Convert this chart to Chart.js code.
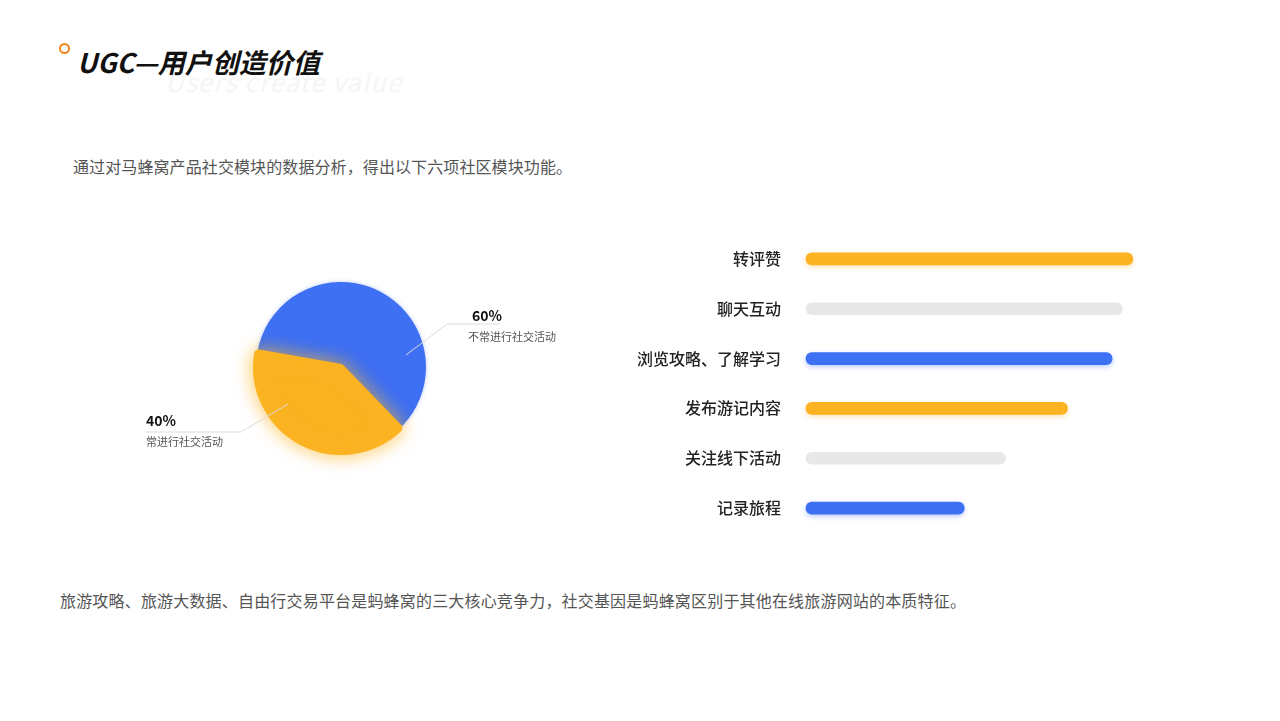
<!DOCTYPE html>
<html>
<head>
<meta charset="utf-8">
<script src="https://cdn.jsdelivr.net/npm/chart.js@4"></script>
<style>
  html, body { margin: 0; padding: 0; background: #fff; }
  body { width: 1280px; height: 721px; position: relative; overflow: hidden;
         font-family: "Noto Sans CJK SC", "Noto Sans", sans-serif; }
  .dot { position: absolute; left: 59px; top: 43px; width: 7px; height: 7px;
         border: 2px solid #f5841f; border-radius: 50%; }
  .ghost { position: absolute; left: 165px; top: 62px; font-size: 26px; font-style: italic;
           color: #f5f5f5; letter-spacing: 1px; white-space: nowrap; }
  .title { position: absolute; left: 77px; top: 44px; font-size: 27px; font-weight: 700;
           font-style: italic; color: #111; white-space: nowrap; line-height: 36px; }
  .p { position: absolute; font-size: 16px; color: #555; white-space: nowrap; line-height: 20px; }
  #pie { position: absolute; left: 101px; top: 247px; }
  #bars { position: absolute; left: 620px; top: 234px; }
</style>
</head>
<body>
<div class="dot"></div>
<div class="ghost">Users create value</div>
<div class="title">UGC—用户创造价值</div>
<div class="p" style="left:73px; top:156px; letter-spacing:0.1px;">通过对马蜂窝产品社交模块的数据分析，得出以下六项社区模块功能。</div>
<div class="p" style="left:60px; top:590px; letter-spacing:0.18px;">旅游攻略、旅游大数据、自由行交易平台是蚂蜂窝的三大核心竞争力，社交基因是蚂蜂窝区别于其他在线旅游网站的本质特征。</div>
<canvas id="pie" width="480" height="240"></canvas>
<canvas id="bars" width="530" height="299"></canvas>
<script>
// pie data
const pieLabels = ['不常进行社交活动', '常进行社交活动'];
const pieValues = [60, 40];
const pieColors = ['#3e70f3', '#fbb322'];

// bar data
const barLabels = ['转评赞', '聊天互动', '浏览攻略、了解学习', '发布游记内容', '关注线下活动', '记录旅程'];
const barValues = [95, 92, 89, 76, 58, 46];
const barColors = ['#fbb322', '#e8e8e8', '#3e70f3', '#fbb322', '#e8e8e8', '#3e70f3'];

// draws each slice with its own glow
const pieGlow = {
    id: 'pieGlow',
    beforeDatasetDraw(chart) {
        const ctx = chart.ctx;
        const meta = chart.getDatasetMeta(0);
        const glows = ['rgba(62,112,243,0.35)', 'rgba(251,179,34,0.7)'];
        const blurs = [4, 18];
        meta.data.forEach((arc, i) => {
            ctx.save();
            ctx.shadowColor = glows[i];
            ctx.shadowBlur = blurs[i];
            arc.draw(ctx);
            ctx.restore();
        });
        return false;
    }
};

// leader lines and labels
const pieCallouts = {
    id: 'pieCallouts',
    afterDatasetsDraw(chart) {
        const ctx = chart.ctx;
        const arc = chart.getDatasetMeta(0).data[0];
        const cx = arc.x, cy = arc.y;
        const spots = [
            { a: [65, -12], b: [106, -43], c: [159, -43], tx: 131, ty: -51, sx: 127, sy: -30 },
            { a: [-53, 37], b: [-100, 65], c: [-195, 65], tx: -195, ty: 54, sx: -195, sy: 75 }
        ];
        spots.forEach((s, i) => {
            ctx.save();
            ctx.strokeStyle = '#dcdcdc';
            ctx.lineWidth = 1;
            ctx.beginPath();
            ctx.moveTo(cx + s.a[0], cy + s.a[1]);
            ctx.lineTo(cx + s.b[0], cy + s.b[1]);
            ctx.lineTo(cx + s.c[0], cy + s.c[1]);
            ctx.stroke();
            ctx.textAlign = 'left';
            ctx.textBaseline = 'middle';
            ctx.fillStyle = '#111';
            ctx.font = 'bold 14px "Noto Sans CJK SC", sans-serif';
            ctx.fillText(pieValues[i] + '%', cx + s.tx, cy + s.ty);
            ctx.fillStyle = '#555';
            ctx.font = '11px "Noto Sans CJK SC", sans-serif';
            ctx.fillText(pieLabels[i], cx + s.sx, cy + s.sy);
            ctx.restore();
        });
    }
};

new Chart(document.getElementById('pie'), {
    type: 'pie',
    data: {
        labels: pieLabels,
        datasets: [{
            data: pieValues,
            backgroundColor: pieColors,
            borderColor: pieColors,
            borderWidth: [0, 6],
            hoverOffset: 0
        }]
    },
    options: {
        responsive: false,
        animation: false,
        radius: 85,
        rotation: 280,
        plugins: { legend: { display: false }, tooltip: { enabled: false } }
    },
    plugins: [pieGlow, pieCallouts]
});

// soft shadow under coloured bars
const barShadow = {
    id: 'barShadow',
    beforeDatasetDraw(chart) {
        const ctx = chart.ctx;
        const meta = chart.getDatasetMeta(0);
        meta.data.forEach((bar, i) => {
            ctx.save();
            if (barColors[i] !== '#e8e8e8') {
                ctx.shadowColor = barColors[i] === '#3e70f3' ? 'rgba(62,112,243,0.35)' : 'rgba(251,179,34,0.35)';
                ctx.shadowBlur = 5;
                ctx.shadowOffsetY = 2;
            }
            bar.draw(ctx);
            ctx.restore();
        });
        return false;
    }
};

new Chart(document.getElementById('bars'), {
    type: 'bar',
    data: {
        labels: barLabels,
        datasets: [{
            data: barValues,
            backgroundColor: barColors,
            barThickness: 12,
            borderRadius: 6,
            borderSkipped: false
        }]
    },
    options: {
        indexAxis: 'y',
        responsive: false,
        animation: false,
        layout: { padding: 0 },
        scales: {
            x: { display: false, min: 0, max: 100 },
            y: {
                grid: { display: false, drawTicks: false },
                border: { display: false },
                ticks: {
                    padding: 25,
                    color: '#222',
                    font: { family: '"Noto Sans CJK SC", sans-serif', size: 16, weight: 500 }
                },
                afterFit(scale) {
                    scale.width = 186;
                    scale.paddingTop = 0;
                    scale.paddingBottom = 0;
                }
            }
        },
        plugins: { legend: { display: false }, tooltip: { enabled: false } }
    },
    plugins: [barShadow]
});
</script>
</body>
</html>
